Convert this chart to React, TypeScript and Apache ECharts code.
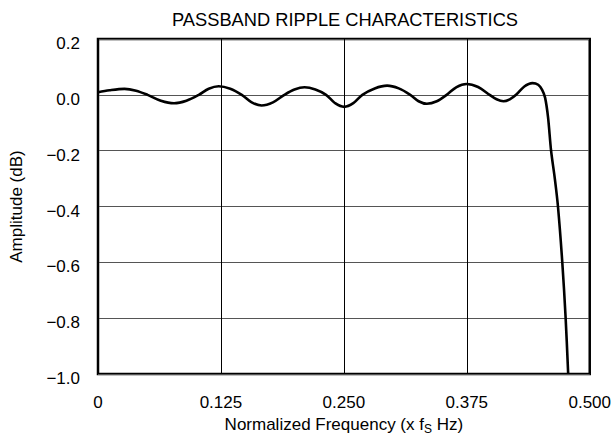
import React, { useEffect, useRef } from "react";
import * as echarts from "echarts";

const titleText = "PASSBAND RIPPLE CHARACTERISTICS";
const yAxisTitle = "Amplitude (dB)";

const xTicks = [0, 0.125, 0.25, 0.375, 0.5];
const xTickLabels = ["0", "0.125", "0.250", "0.375", "0.500"];
const yTicks = [-1.0, -0.8, -0.6, -0.4, -0.2, 0.0, 0.2];
const yTickLabels = ["\u22121.0", "\u22120.8", "\u22120.6", "\u22120.4", "\u22120.2", "0.0", "0.2"];

const freq = [
  0, 0.0117, 0.0269, 0.0387, 0.0504, 0.0639, 0.0773, 0.0899, 0.1025, 0.1126,
  0.1227, 0.1345, 0.1462, 0.1563, 0.1663, 0.1779, 0.1895, 0.1998, 0.21, 0.221,
  0.2319, 0.2411, 0.2503, 0.2596, 0.2688, 0.2814, 0.294, 0.3058, 0.3175, 0.326,
  0.3344, 0.3445, 0.3545, 0.3646, 0.3747, 0.3865, 0.3982, 0.4053, 0.4123, 0.4187,
  0.4251, 0.4335, 0.4418, 0.4476, 0.4516, 0.4546, 0.4576, 0.4607, 0.4645, 0.4677,
  0.4721, 0.4755, 0.4781,
];
const amplitude = [
  0.0093, 0.0165, 0.0215, 0.015, 0.0, -0.021, -0.030, -0.021, 0.0, 0.022,
  0.031, 0.022, 0.0, -0.027, -0.038, -0.027, 0.0, 0.019, 0.027, 0.019,
  0.0, -0.030, -0.043, -0.030, 0.0, 0.023, 0.033, 0.023, 0.0, -0.023,
  -0.032, -0.023, 0.0, 0.028, 0.039, 0.028, 0.0, -0.016, -0.023, -0.016,
  0.0, 0.030, 0.042, 0.036, 0.018, -0.01, -0.08, -0.2, -0.3, -0.4,
  -0.6, -0.8, -1.0,
];

const FONT = "'Liberation Sans', Arial, Helvetica, sans-serif";

export default function App() {
  const ref = useRef<HTMLDivElement>(null);
  useEffect(() => {
    if (!ref.current) return;
    const chart = echarts.init(ref.current, undefined, { renderer: "svg" });
    const data = freq.map((f, i) => [f, amplitude[i]]);
    const lookup = (ticks: number[], labels: string[]) => (v: number) => {
      const i = ticks.findIndex((t) => Math.abs(t - v) < 1e-6);
      return i >= 0 ? labels[i] : "";
    };
    chart.setOption({
      animation: false,
      backgroundColor: "#fff",
      title: {
        text: titleText,
        left: 340,
        top: 5,
        textAlign: "center",
        textStyle: { fontFamily: FONT, fontSize: 18.3, fontWeight: "normal", color: "#000" },
      },
      grid: {
        left: 95,
        right: 23,
        top: 39,
        bottom: 69,
        show: true,
        borderColor: "#000",
        borderWidth: 2.5,
        backgroundColor: "transparent",
      },
      xAxis: {
        type: "value",
        min: 0,
        max: 0.5,
        interval: 0.125,
        name: "Normalized Frequency (x f{s|S} Hz)",
        nameLocation: "middle",
        nameGap: 40,
        nameTextStyle: {
          fontFamily: FONT,
          fontSize: 17,
          color: "#000",
          rich: {
            s: { fontFamily: FONT, fontSize: 12, color: "#000", padding: [9, 0, 0, 0] },
          },
        },
        axisLine: { show: false },
        axisTick: { show: false },
        axisLabel: {
          fontFamily: FONT,
          fontSize: 17,
          color: "#000",
          margin: 20,
          formatter: lookup(xTicks, xTickLabels),
        },
        splitLine: { show: true, lineStyle: { color: "#000", width: 1 } },
      },
      yAxis: {
        type: "value",
        min: -1,
        max: 0.2,
        interval: 0.2,
        name: yAxisTitle,
        nameLocation: "middle",
        nameGap: 73,
        nameTextStyle: { fontFamily: FONT, fontSize: 17, color: "#000" },
        axisLine: { show: false },
        axisTick: { show: false },
        axisLabel: {
          fontFamily: FONT,
          fontSize: 17,
          color: "#000",
          margin: 18,
          verticalAlign: "top",
          lineHeight: 9,
          formatter: lookup(yTicks, yTickLabels),
        },
        splitLine: { show: true, lineStyle: { color: "#555", width: 1.2 } },
      },
      series: [
        {
          type: "line",
          data,
          smooth: 0.33,
          showSymbol: false,
          symbol: "none",
          clip: true,
          lineStyle: { color: "#000", width: 2.6 },
        },
      ],
    });
    return () => chart.dispose();
  }, []);
  return (
    <div
      ref={ref}
      style={{ position: "fixed", left: 0, top: 0, width: 614, height: 443, background: "#fff" }}
    />
  );
}
